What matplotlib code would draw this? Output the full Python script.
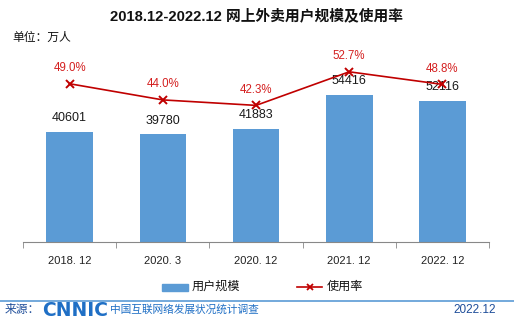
import matplotlib
matplotlib.use("Agg")
import matplotlib.pyplot as plt
from matplotlib.lines import Line2D
from matplotlib.patches import Rectangle

plt.rcParams['font.family'] = ['Liberation Sans', 'Noto Sans CJK SC', 'DejaVu Sans']

categories = ["2018. 12", "2020. 3", "2020. 12", "2021. 12", "2022. 12"]
users = [40601, 39780, 41883, 54416, 52116]
rate = [49.0, 44.0, 42.3, 52.7, 48.8]
rate_labels = ["49.0%", "44.0%", "42.3%", "52.7%", "48.8%"]

W, H = 514, 322
fig = plt.figure(figsize=(W / 100, H / 100), dpi=100)

bar_color = "#5B9BD5"
line_color = "#C00000"
pct_color = "#D42020"

ax_l, ax_r = 23 / W, 489 / W
ax_b, ax_t = (H - 242) / H, (H - 45) / H
ax = fig.add_axes([ax_l, ax_b, ax_r - ax_l, ax_t - ax_b])
ax.patch.set_alpha(0)
x = list(range(len(categories)))
ax.bar(x, users, width=0.5, color=bar_color, zorder=2)
ax.set_xlim(-0.5, len(categories) - 0.5)
ax.set_ylim(0, 72700)
for xi, v in zip(x, users):
    ax.annotate(f"{v}", (xi, v), xytext=(0, 5.5), textcoords="offset points",
                ha="center", va="bottom", fontsize=9, color="#1a1a1a", zorder=5)
ax.set_yticks([])
for s in ["top", "right", "left"]:
    ax.spines[s].set_visible(False)
ax.spines["bottom"].set_color("#888888")
ax.set_xticks(x)
ax.set_xticklabels(categories, fontsize=8, color="#222222")
ax.tick_params(axis="x", length=0, pad=10)
ax.set_xticks([i - 0.5 for i in range(len(categories) + 1)], minor=True)
ax.tick_params(axis="x", which="minor", length=4, color="#888888", direction="out")

ax2 = ax.twinx()
ax2.set_ylim(0, 61)
ax2.plot(x, rate, color=line_color, lw=1.2, marker="x", ms=6, mew=1.4, zorder=4)
for xi, v, lab in zip(x, rate, rate_labels):
    ax2.annotate(lab, (xi, v), xytext=(0, 7), textcoords="offset points",
                 ha="center", va="bottom", fontsize=8.3, color=pct_color)
ax2.set_yticks([])
for s in ["top", "right", "left", "bottom"]:
    ax2.spines[s].set_visible(False)

# titles
fig.text(0.5, 1 - 16 / H, "2018.12-2022.12 网上外卖用户规模及使用率", ha="center", va="center",
         fontsize=10.6, fontweight="bold", color="#111111")
fig.text(12 / W, 1 - 38 / H, "单位：万人", ha="left", va="center", fontsize=8.5, color="#111111")

# legend
ly = 1 - 287 / H
fig.patches.append(Rectangle((162 / W, ly - 3.5 / H), 26 / W, 7 / H, transform=fig.transFigure,
                             color=bar_color))
fig.text(192 / W, ly, "用户规模", ha="left", va="center", fontsize=8.7, color="#111111")
fig.lines.append(Line2D([297 / W, 322 / W], [ly, ly], transform=fig.transFigure,
                        color=line_color, lw=1.2))
fig.lines.append(Line2D([309.5 / W], [ly], transform=fig.transFigure, color=line_color,
                        marker="x", ms=5, mew=1.3))
fig.text(327 / W, ly, "使用率", ha="left", va="center", fontsize=8.7, color="#111111")

# footer
fig.lines.append(Line2D([0, 1], [1 - 301 / H, 1 - 301 / H], transform=fig.transFigure,
                        color=bar_color, lw=1.2))
fy = 1 - 310 / H
fig.text(5 / W, fy, "来源：", ha="left", va="center", fontsize=8.5, color="#1F4E9A")
fig.text(42 / W, fy, "CNNIC", ha="left", va="center", fontsize=13.5, fontweight="black",
         color="#1F6FC5", family=["DejaVu Sans"])
fig.text(110 / W, fy, "中国互联网络发展状况统计调查", ha="left", va="center", fontsize=7.7,
         color="#1F6FC5")
fig.text(496 / W, fy, "2022.12", ha="right", va="center", fontsize=8.5, color="#1F4E9A")

fig.savefig("out.png", dpi=100)
